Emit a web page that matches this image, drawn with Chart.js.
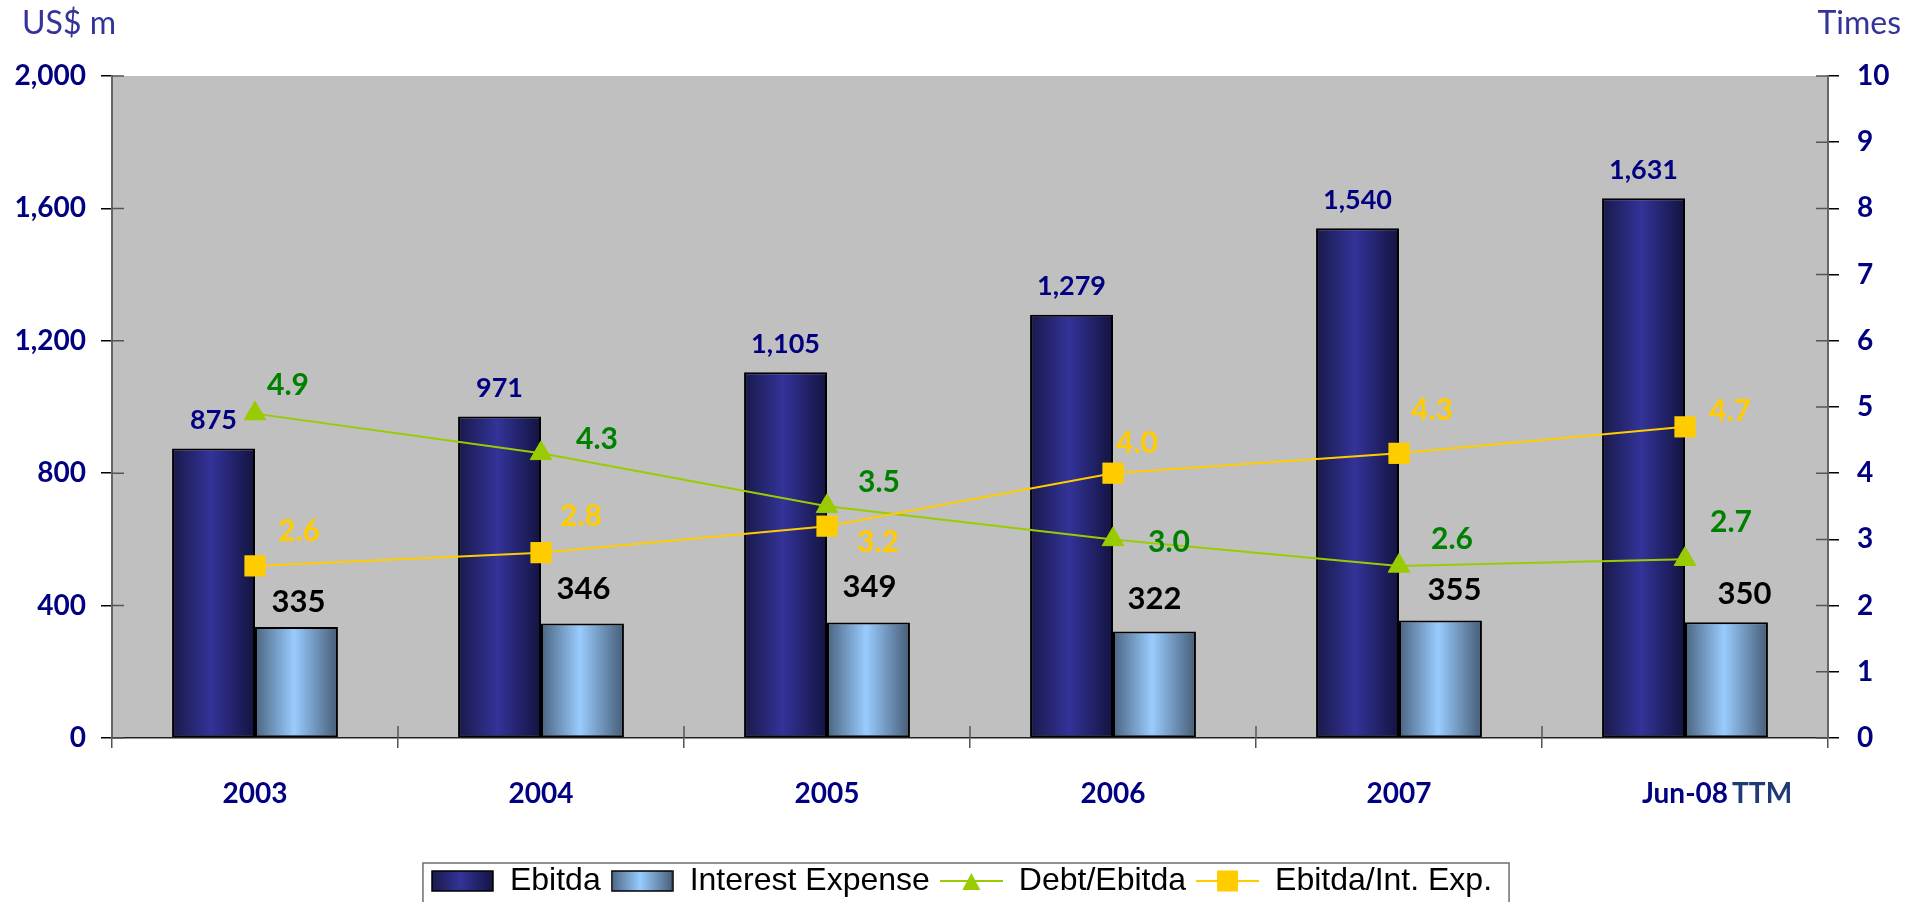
<!DOCTYPE html>
<html>
<head>
<meta charset="utf-8">
<script src="https://cdn.jsdelivr.net/npm/chart.js@4.4.1/dist/chart.umd.min.js"></script>
<style>
  html, body { margin: 0; padding: 0; background: #ffffff; overflow: hidden; }
  canvas { display: block; }
</style>
</head>
<body>
<canvas id="coverage" width="1923" height="902" style="width:1923px;height:902px"></canvas>
<script>
// Periods and values
const periods = ['2003', '2004', '2005', '2006', '2007', 'Jun-08'];
const lastPeriodNote = 'TTM';
const ebitda = [875, 971, 1105, 1279, 1540, 1631];
const interestExpense = [335, 346, 349, 322, 355, 350];
const debtToEbitda = [4.9, 4.3, 3.5, 3.0, 2.6, 2.7];
const ebitdaToInterest = [2.6, 2.8, 3.2, 4.0, 4.3, 4.7];

// Axis tick values
const amountTicks = [0, 400, 800, 1200, 1600, 2000];
const timesTicks = [0, 1, 2, 3, 4, 5, 6, 7, 8, 9, 10];

const NAVY = '#000080';
const LABEL_FONT = 'Lato, "Open Sans", sans-serif';
const TICK_SIZE = 28;

// Cylinder-like horizontal shading for the two bar series
const barShades = [
  ['#19194a', '#333399', '#131340'],
  ['#4b6480', '#99ccff', '#465c76']
];
function shade(ctx, x0, x1, stops) {
  const g = ctx.createLinearGradient(x0, 0, x1, 0);
  g.addColorStop(0, stops[0]);
  g.addColorStop(0.47, stops[1]);
  g.addColorStop(1, stops[2]);
  return g;
}

// Value label placement around each mark: [dx, dy] from the element position
const valueLabelSpecs = [
  { dataset: 0, color: NAVY, size: 27, fmt: v => v.toLocaleString('en-US'),
    nudge: [[0, -28], [0, -28], [0, -28], [0, -28], [0, -28], [0, -28]] },
  { dataset: 1, color: '#000000', size: 31, fmt: v => v.toLocaleString('en-US'),
    nudge: [[2, -25], [1, -34], [1, -35], [0, -32], [14, -30], [18, -28]] },
  { dataset: 2, color: '#008000', size: 30, fmt: v => v.toFixed(1),
    nudge: [[33, -28], [56, -14], [52, -24], [56, 3], [53, -27], [46, -37]] },
  { dataset: 3, color: '#FFCC00', size: 30, fmt: v => v.toFixed(1),
    nudge: [[44, -35], [40, -36], [51, 16], [24, -30], [33, -43], [45, -16]] }
];

// Legend swatches: shaded boxes for bars, line-with-marker for lines
function swatch(draw) {
  const c = document.createElement('canvas');
  c.width = 63; c.height = 22;
  draw(c.getContext('2d'), 63, 22);
  return c;
}
const legendSwatches = [
  swatch((ctx, w, h) => {
    ctx.fillStyle = shade(ctx, 0, w, barShades[0]);
    ctx.fillRect(1, 1, w - 2, h - 2);
    ctx.strokeStyle = '#000'; ctx.lineWidth = 1.5; ctx.strokeRect(1, 1, w - 2, h - 2);
  }),
  swatch((ctx, w, h) => {
    ctx.fillStyle = shade(ctx, 0, w, barShades[1]);
    ctx.fillRect(1, 1, w - 2, h - 2);
    ctx.strokeStyle = '#000'; ctx.lineWidth = 1.5; ctx.strokeRect(1, 1, w - 2, h - 2);
  }),
  swatch((ctx, w, h) => {
    ctx.strokeStyle = '#99CC00'; ctx.lineWidth = 2;
    ctx.beginPath(); ctx.moveTo(0, h / 2); ctx.lineTo(w, h / 2); ctx.stroke();
    ctx.fillStyle = '#99CC00';
    ctx.beginPath(); ctx.moveTo(w / 2, 3); ctx.lineTo(w / 2 + 9, h - 2); ctx.lineTo(w / 2 - 9, h - 2); ctx.closePath(); ctx.fill();
  }),
  swatch((ctx, w, h) => {
    ctx.strokeStyle = '#FFCC00'; ctx.lineWidth = 2;
    ctx.beginPath(); ctx.moveTo(0, h / 2); ctx.lineTo(w, h / 2); ctx.stroke();
    ctx.fillStyle = '#FFCC00';
    ctx.fillRect(w / 2 - 10.5, 0.5, 21, 21);
  })
];

const plotBackground = {
  id: 'plotBackground',
  beforeDraw(chart) {
    const { ctx, chartArea: a } = chart;
    ctx.save();
    ctx.fillStyle = '#C0C0C0';
    ctx.fillRect(a.left, a.top, a.right - a.left, a.bottom - a.top);
    ctx.restore();
  }
};

const barShading = {
  id: 'barShading',
  beforeDatasetsDraw(chart) {
    const ctx = chart.ctx;
    barShades.forEach((stops, di) => {
      chart.getDatasetMeta(di).data.forEach(el => {
        const { x, width } = el.getProps(['x', 'width'], true);
        el.options = Object.assign({}, el.options, {
          backgroundColor: shade(ctx, x - width / 2, x + width / 2, stops)
        });
      });
    });
  }
};

const valueLabels = {
  id: 'valueLabels',
  afterDatasetsDraw(chart) {
    const ctx = chart.ctx;
    valueLabelSpecs.forEach(spec => {
      const meta = chart.getDatasetMeta(spec.dataset);
      const values = chart.data.datasets[spec.dataset].data;
      ctx.save();
      ctx.font = `bold ${spec.size}px ${LABEL_FONT}`;
      ctx.fillStyle = spec.color;
      ctx.textAlign = 'center';
      ctx.textBaseline = 'middle';
      meta.data.forEach((el, i) => {
        const [dx, dy] = spec.nudge[i];
        ctx.fillText(spec.fmt(values[i]), el.x + dx, el.y + dy);
      });
      ctx.restore();
    });
  }
};

// Tick stubs reaching into the plot, unit captions, period note and legend frame
const chartFurniture = {
  id: 'chartFurniture',
  afterDraw(chart) {
    const { ctx, chartArea: a, scales } = chart;
    ctx.save();
    ctx.lineWidth = 1.5;
    ctx.beginPath();
    scales.y.ticks.forEach(t => {
      const y = scales.y.getPixelForValue(t.value);
      ctx.moveTo(a.left, y); ctx.lineTo(a.left + 12, y);
    });
    scales.y1.ticks.forEach(t => {
      const y = scales.y1.getPixelForValue(t.value);
      ctx.moveTo(a.right - 12, y); ctx.lineTo(a.right, y);
    });
    for (let i = 1; i < periods.length; i++) {
      const x = scales.x.getPixelForValue(i - 0.5);
      ctx.moveTo(x, a.bottom - 12); ctx.lineTo(x, a.bottom);
    }
    ctx.strokeStyle = '#555';
    ctx.stroke();

    // note after the last period label, on the same text line
    ctx.font = `bold ${TICK_SIZE}px ${LABEL_FONT}`;
    const lastIdx = periods.length - 1;
    const lastX = scales.x.getPixelForValue(lastIdx);
    const lastW = ctx.measureText(periods[lastIdx]).width;
    ctx.fillStyle = '#1f3a78';
    ctx.textAlign = 'left';
    ctx.textBaseline = 'middle';
    ctx.fillText(lastPeriodNote, lastX + lastW / 2 + 4, a.bottom + 56);

    ctx.font = `32px ${LABEL_FONT}`;
    ctx.fillStyle = '#333399';
    ctx.textBaseline = 'middle';
    ctx.textAlign = 'left';
    ctx.fillText('US$ m', 22, 24);
    ctx.textAlign = 'right';
    ctx.fillText('Times', 1901, 24);

    const lg = chart.legend;
    if (lg && lg.legendHitBoxes && lg.legendHitBoxes.length) {
      const boxes = lg.legendHitBoxes;
      const x0 = boxes[0].left - 8;
      const last = boxes[boxes.length - 1];
      const x1 = last.left + last.width + 17;
      ctx.strokeStyle = '#6e6e6e';
      ctx.lineWidth = 1.5;
      ctx.strokeRect(x0, lg.top + 8, x1 - x0, 80);
    }
    ctx.restore();
  }
};

function build() {
  new Chart(document.getElementById('coverage'), {
    type: 'bar',
    data: {
      labels: periods,
      datasets: [
        { type: 'bar', label: 'Ebitda', data: ebitda, yAxisID: 'y', order: 2,
          backgroundColor: '#333399', borderColor: '#000', borderWidth: 2, borderSkipped: false,
          categoryPercentage: 0.58, barPercentage: 1 },
        { type: 'bar', label: 'Interest Expense', data: interestExpense, yAxisID: 'y', order: 2,
          backgroundColor: '#99ccff', borderColor: '#000', borderWidth: 2, borderSkipped: false,
          categoryPercentage: 0.58, barPercentage: 1 },
        { type: 'line', label: 'Debt/Ebitda', data: debtToEbitda, yAxisID: 'y1', order: 1,
          borderColor: '#99CC00', borderWidth: 2, tension: 0,
          pointStyle: 'triangle', pointRadius: 12.5, pointBackgroundColor: '#99CC00',
          pointBorderColor: '#99CC00', pointBorderWidth: 1 },
        { type: 'line', label: 'Ebitda/Int. Exp.', data: ebitdaToInterest, yAxisID: 'y1', order: 0,
          borderColor: '#FFCC00', borderWidth: 2, tension: 0,
          pointStyle: 'rect', pointRadius: 15, pointBackgroundColor: '#FFCC00',
          pointBorderColor: '#FFCC00', pointBorderWidth: 0 }
      ]
    },
    options: {
      responsive: false,
      devicePixelRatio: 1,
      animation: false,
      events: [],
      layout: { padding: { top: 76, left: 0, right: 0, bottom: -5 } },
      scales: {
        x: {
          offset: true,
          grid: { offset: true, drawOnChartArea: false, tickLength: 10, color: '#555', lineWidth: 1.5 },
          border: { color: '#222', width: 1.5 },
          ticks: { color: NAVY, font: { family: LABEL_FONT, weight: 'bold', size: TICK_SIZE },
                   padding: 29, maxRotation: 0, autoSkip: false },
          afterFit: s => { s.height = 117; }
        },
        y: {
          position: 'left', min: 0, max: 2000,
          afterBuildTicks: s => { s.ticks = amountTicks.map(v => ({ value: v })); },
          grid: { drawOnChartArea: false, tickLength: 11, color: '#000', lineWidth: 1.5 },
          border: { color: '#666', width: 2 },
          ticks: { color: NAVY, font: { family: LABEL_FONT, weight: 'bold', size: TICK_SIZE }, padding: 15,
                   callback: v => Number(v).toLocaleString('en-US') },
          afterFit: s => { s.width = 112; }
        },
        y1: {
          position: 'right', min: 0, max: 10,
          afterBuildTicks: s => { s.ticks = timesTicks.map(v => ({ value: v })); },
          grid: { drawOnChartArea: false, tickLength: 11, color: '#000', lineWidth: 1.5 },
          border: { color: '#666', width: 2 },
          ticks: { color: NAVY, font: { family: LABEL_FONT, weight: 'bold', size: TICK_SIZE }, padding: 18,
                   callback: v => String(v) },
          afterFit: s => { s.width = 95; }
        }
      },
      plugins: {
        tooltip: { enabled: false },
        legend: {
          position: 'bottom',
          labels: {
            usePointStyle: true,
            pointStyleWidth: 63,
            boxWidth: 63,
            boxHeight: 22,
            padding: 10,
            color: '#000',
            font: { family: '"Liberation Sans", Arial, sans-serif', size: 32 },
            generateLabels: chart => chart.data.datasets.map((ds, i) => ({
              text: ds.label,
              pointStyle: legendSwatches[i],
              fillStyle: 'rgba(0,0,0,0)',
              strokeStyle: 'rgba(0,0,0,0)',
              lineWidth: 0,
              hidden: false,
              datasetIndex: i
            }))
          }
        }
      }
    },
    plugins: [plotBackground, barShading, valueLabels, chartFurniture]
  });
}

Promise.all([
  document.fonts.load(`bold ${TICK_SIZE}px ${LABEL_FONT}`),
  document.fonts.load(`32px ${LABEL_FONT}`),
  document.fonts.load('32px "Liberation Sans"')
]).then(build, build);
</script>
</body>
</html>
